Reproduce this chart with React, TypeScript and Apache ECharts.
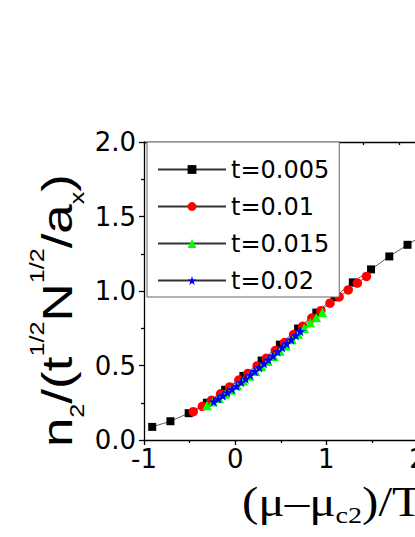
import React, { useEffect, useRef } from "react";
import * as echarts from "echarts";

const seriesNames = ["t=0.005", "t=0.01", "t=0.015", "t=0.02"];

const xT005 = [-0.91, -0.71, -0.51, -0.31, -0.11, 0.09, 0.29, 0.49, 0.69, 0.89, 1.09, 1.29, 1.49, 1.69, 1.89, 2.09];
const yT005 = [0.088, 0.126, 0.18, 0.25, 0.337, 0.43, 0.533, 0.64, 0.748, 0.855, 0.958, 1.058, 1.145, 1.232, 1.31, 1.385];

const xT01 = [-0.46, -0.36, -0.26, -0.16, -0.06, 0.04, 0.14, 0.24, 0.34, 0.44, 0.54, 0.64, 0.74, 0.84, 0.94, 1.04, 1.14, 1.24, 1.34, 1.44];
const yT01 = [0.19, 0.226, 0.266, 0.31, 0.356, 0.402, 0.447, 0.497, 0.548, 0.6, 0.654, 0.708, 0.763, 0.818, 0.868, 0.918, 0.96, 1.007, 1.053, 1.098];

const xT015 = [-0.31, -0.243, -0.177, -0.11, -0.043, 0.023, 0.09, 0.157, 0.223, 0.29, 0.357, 0.423, 0.49, 0.557, 0.623, 0.69, 0.757, 0.823, 0.89, 0.957];
const yT015 = [0.232, 0.256, 0.281, 0.308, 0.336, 0.366, 0.397, 0.429, 0.461, 0.494, 0.528, 0.562, 0.597, 0.632, 0.675, 0.712, 0.75, 0.787, 0.822, 0.856];

const xT02 = [-0.235, -0.185, -0.135, -0.085, -0.035, 0.015, 0.065, 0.115, 0.165, 0.215, 0.265, 0.315, 0.365, 0.415, 0.465, 0.515, 0.565, 0.615, 0.665, 0.715];
const yT02 = [0.258, 0.277, 0.297, 0.318, 0.34, 0.363, 0.387, 0.411, 0.436, 0.461, 0.487, 0.513, 0.539, 0.566, 0.593, 0.62, 0.647, 0.674, 0.702, 0.73];

const yTickLabels = ["0.0", "0.5", "1.0", "1.5", "2.0"];

const STAR =
  "path://M0,-10 L2.35,-3.24 L9.51,-3.09 L3.8,1.24 L5.88,8.09 L0,4 L-5.88,8.09 L-3.8,1.24 L-9.51,-3.09 L-2.35,-3.24 Z";

const pairs = (xs: number[], ys: number[]) => xs.map((x, i) => [x, ys[i]]);

export default function App() {
  const ref = useRef<HTMLDivElement>(null);
  useEffect(() => {
    if (!ref.current) return;
    const chart = echarts.init(ref.current, undefined, { renderer: "svg" });
    const lineStyle = { color: "#333", width: 0.8 };
    const mk = (name: string, data: number[][], symbol: string, size: number, color: string) => ({
      name,
      type: "line",
      data,
      symbol,
      symbolSize: size,
      showSymbol: true,
      lineStyle,
      itemStyle: { color, borderWidth: 0 },
      emphasis: { disabled: true },
      clip: true,
      z: 3,
    });
    const axisCol = { color: "#000", width: 1.3 };
    chart.setOption({
      animation: false,
      backgroundColor: "#fff",
      grid: { left: 144, right: 10, top: 142, bottom: 97 },
      legend: {
        orient: "vertical",
        left: 147,
        top: 142,
        padding: [13, 10, 2, 10],
        itemGap: 8,
        itemWidth: 68,
        itemHeight: 11,
        borderColor: "#666",
        borderWidth: 1,
        backgroundColor: "#fff",
        selectedMode: false,
        textStyle: { fontSize: 24, fontFamily: "DejaVu Sans", color: "#000", lineHeight: 29 },
        data: seriesNames,
        z: 10,
      },
      xAxis: [
        {
          type: "value",
          position: "bottom",
          min: -1,
          max: 3,
          interval: 1,
          axisLine: { onZero: false, lineStyle: axisCol },
          axisTick: { inside: false, length: 5, lineStyle: axisCol },
          minorTick: { show: true, splitNumber: 2, length: 3, lineStyle: axisCol },
          splitLine: { show: false },
          axisLabel: { fontSize: 26, fontFamily: "DejaVu Sans", color: "#000", margin: 6 },
        },
        {
          type: "value",
          position: "top",
          min: -1,
          max: 3,
          interval: 0.4,
          axisLine: { onZero: false, lineStyle: axisCol },
          axisTick: { inside: true, length: 3, lineStyle: axisCol },
          splitLine: { show: false },
          axisLabel: { show: false },
        },
      ],
      yAxis: {
        type: "value",
        min: 0,
        max: 2,
        interval: 0.5,
        axisLine: { show: true, onZero: false, lineStyle: axisCol },
        axisTick: { show: true, inside: false, length: 5, lineStyle: axisCol },
        minorTick: { show: true, splitNumber: 2, length: 3, lineStyle: axisCol },
        splitLine: { show: false },
        axisLabel: {
          fontSize: 26,
          fontFamily: "DejaVu Sans",
          color: "#000",
          margin: 8,
          formatter: (v: number) => yTickLabels[Math.round(v / 0.5)] ?? v.toFixed(1),
        },
      },
      graphic: [
        {
          type: "text",
          x: 57,
          y: 174,
          rotation: Math.PI / 2,
          scaleX: 1.26,
          scaleY: 1,
          style: {
            text: "{m|n}{sb|2}{m|/(t}{sp|1/2}{m|N}{sp|1/2}{m|/a}{sb|x}{m|)}",
            align: "right",
            verticalAlign: "middle",
            fill: "#000",
            rich: {
              m: { fontSize: 42, fontFamily: "Liberation Sans", lineHeight: 60, fill: "#000" },
              sb: { fontSize: 20, fontFamily: "Liberation Sans", lineHeight: 6, verticalAlign: "bottom", fill: "#000" },
              sp: { fontSize: 20, fontFamily: "Liberation Sans", lineHeight: 35, verticalAlign: "top", fill: "#000" },
            },
          },
        },
        {
          type: "text",
          x: 242,
          y: 502,
          scaleX: 1.17,
          scaleY: 1,
          style: {
            text: "{m|(μ–μ}{sb|c2}{m|)/T}",
            align: "left",
            verticalAlign: "middle",
            fill: "#000",
            rich: {
              m: { fontSize: 42, fontFamily: "Liberation Serif", lineHeight: 50, fill: "#000" },
              sb: { fontSize: 24, fontFamily: "Liberation Serif", lineHeight: 15, verticalAlign: "bottom", fill: "#000" },
            },
          },
        },
      ],
      series: [
        mk(seriesNames[0], pairs(xT005, yT005), "rect", 8, "#000000"),
        mk(seriesNames[1], pairs(xT01, yT01), "circle", 9.5, "#ff0000"),
        mk(seriesNames[2], pairs(xT015, yT015), "triangle", 9.5, "#00ff00"),
        mk(seriesNames[3], pairs(xT02, yT02), STAR, 10, "#0000ff"),
      ],
    });
    return () => chart.dispose();
  }, []);
  return (
    <div style={{ position: "absolute", left: 0, top: 0, width: 415, height: 537, overflow: "hidden", background: "#fff" }}>
      <div ref={ref} style={{ width: 520, height: 537 }} />
    </div>
  );
}
